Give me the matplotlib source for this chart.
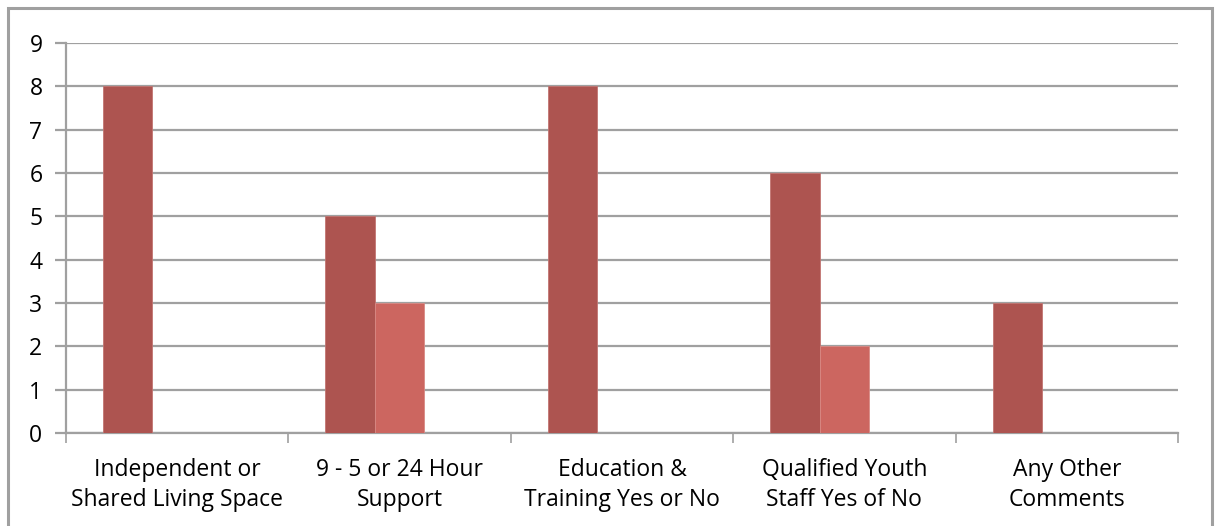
import numpy as np
import matplotlib.pyplot as plt
from matplotlib.patches import Rectangle

categories = ["Independent or\nShared Living Space", "9 - 5 or 24 Hour\nSupport",
              "Education &\nTraining Yes or No", "Qualified Youth\nStaff Yes of No",
              "Any Other\nComments"]
serie1 = [8, 5, 8, 6, 3]
serie2 = [0, 3, 0, 2, 0]
serie3 = [0, 0, 0, 0, 0]

plt.rcParams['font.family'] = ['Open Sans', 'DejaVu Sans']

fig = plt.figure(figsize=(12.18, 5.26), dpi=100)
ax = fig.add_axes([66 / 1218, 1 - 433 / 526, (1178 - 66) / 1218, (433 - 43) / 526])

n = len(categories)
x = np.arange(n)
w = 1 / 4.5
ax.bar(x - w, serie1, w, align='center', color='#ad5450', edgecolor='#c27572', linewidth=0.6, zorder=3)
ax.bar(x, serie2, w, align='center', color='#cc6660', edgecolor='#d98a85', linewidth=0.6, zorder=3)
ax.bar(x + w, serie3, w, align='center', color='#a0a0a0', linewidth=0, zorder=3)

ax.set_xlim(-0.5, n - 0.5)
ax.set_ylim(0, 9)
ax.set_yticks(range(10))
ax.yaxis.grid(True, color='#a0a0a0', linewidth=1.6, zorder=0)
ax.set_axisbelow(True)

ax.set_xticks(np.arange(n + 1) - 0.5)
ax.set_xticklabels([])
ax.set_xticks(x, minor=True)
ax.set_xticklabels(categories, minor=True, fontsize=16.5, linespacing=1.32)
ax.tick_params(axis='x', which='minor', length=0, pad=18)
ax.tick_params(axis='x', which='major', length=7, color='#a0a0a0', width=1.2)
ax.tick_params(axis='y', length=8, color='#a0a0a0', width=1.6, labelsize=16.5, pad=9)

for s in ['top', 'right']:
    ax.spines[s].set_visible(False)
for s in ['left', 'bottom']:
    ax.spines[s].set_color('#a0a0a0')
    ax.spines[s].set_linewidth(1.6)

fig.patches.append(Rectangle((8 / 1218, -0.1), (1212 - 8) / 1218, 1.1 - 8 / 526,
                             transform=fig.transFigure, fill=False,
                             edgecolor='#a0a0a0', linewidth=2.2))

fig.savefig('out.png', dpi=100)
